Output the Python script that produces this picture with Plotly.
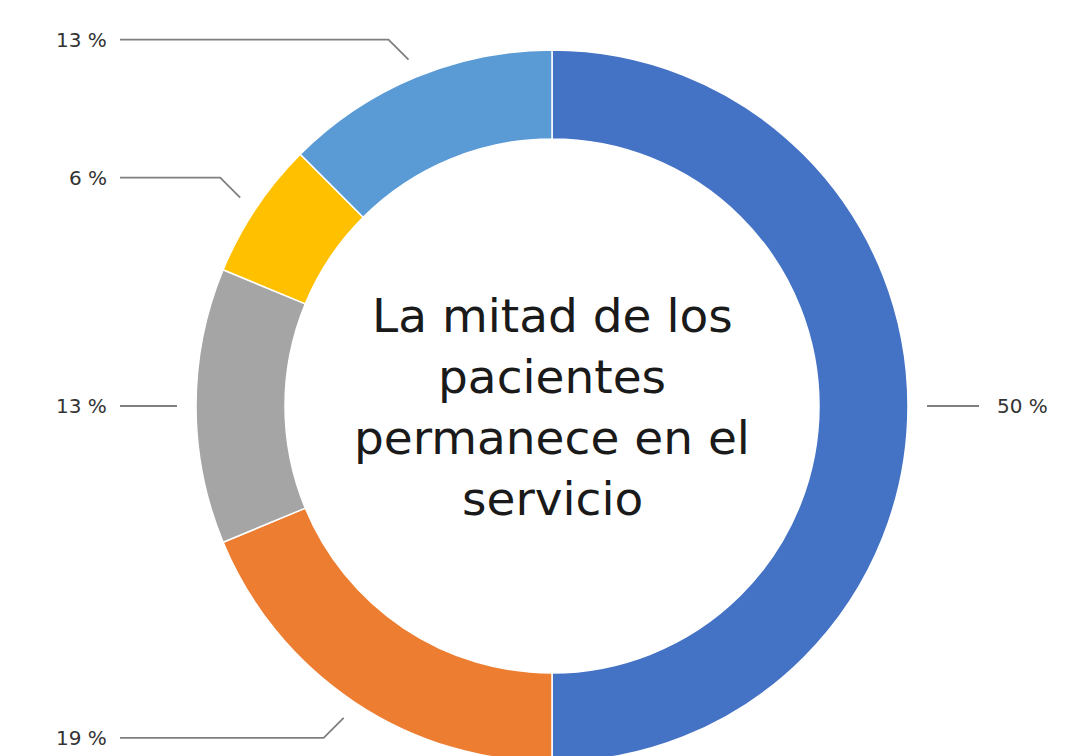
"""Donut: estancia de los pacientes en el servicio"""
import numpy as np
import plotly.graph_objects as go

# datos (orden horario desde las 12)
categories = ["Permanecen", "Grupo 2", "Grupo 3", "Grupo 4", "Grupo 5"]
shares = [50, 18.75, 12.5, 6.25, 12.5]
value_labels = ["50 %", "19 %", "13 %", "6 %", "13 %"]
colors = ["#4472C4", "#ED7D31", "#A5A5A5", "#FFC000", "#5B9BD5"]
center_lines = ["La mitad de los", "pacientes", "permanece en el", "servicio"]

# la página añade 8px de margen al body
W, H = 1067, 756
CX, CY, R = 544, 398, 356
HOLE = 0.75

fig = go.Figure()
fig.add_trace(
    go.Pie(
        labels=categories,
        values=shares,
        sort=False,
        direction="clockwise",
        rotation=0,
        hole=HOLE,
        textinfo="none",
        marker=dict(colors=colors, line=dict(color="white", width=1.5)),
        domain=dict(x=[(CX - R) / W, (CX + R) / W],
                    y=[1 - (CY + R) / H, 1 - (CY - R) / H]),
        showlegend=False,
        hoverinfo="label+percent",
    )
)

# líneas guía y etiquetas, a partir de los ángulos de cada porción
fracs = np.array(shares) / sum(shares)
mids = (np.cumsum(fracs) - fracs / 2) * 2 * np.pi
annotations = []
for theta, txt in zip(mids, value_labels):
    rho = R + 19
    sx, sy = CX + rho * np.sin(theta), CY - rho * np.cos(theta)
    c = np.cos(theta)
    dy = 0 if abs(c) < 0.05 else -20 * np.sign(c)
    if np.sin(theta) < 0:
        ex, ey = sx - abs(dy), sy + dy
        xs, ys = [sx, ex, 112], [sy, ey, ey]
        annotations.append(dict(x=101, y=ey, text=txt, xanchor="right"))
    else:
        xs, ys = [sx, sx + 52], [sy, sy]
        annotations.append(dict(x=sx + 68, y=sy, text=txt, xanchor="left"))
    fig.add_trace(
        go.Scatter(x=xs, y=ys, mode="lines", line=dict(color="#7f7f7f", width=1.8),
                   hoverinfo="skip", showlegend=False)
    )

for a in annotations:
    a.update(xref="x", yref="y", showarrow=False, yanchor="middle",
             font=dict(family="DejaVu Sans", size=20, color="#333333"))

for i, line in enumerate(center_lines):
    annotations.append(
        dict(x=CX, y=CY - 91 + i * 61, xref="x", yref="y", text=line, showarrow=False,
             xanchor="center", yanchor="middle",
             font=dict(family="DejaVu Sans", size=47, color="#1a1a1a"))
    )

fig.update_layout(
    width=W,
    height=H,
    margin=dict(l=0, r=0, t=0, b=0),
    paper_bgcolor="white",
    plot_bgcolor="rgba(0,0,0,0)",
    xaxis=dict(range=[0, W], visible=False, fixedrange=True),
    yaxis=dict(range=[H, 0], visible=False, fixedrange=True),
    annotations=annotations,
)

fig.write_html("out.html")
